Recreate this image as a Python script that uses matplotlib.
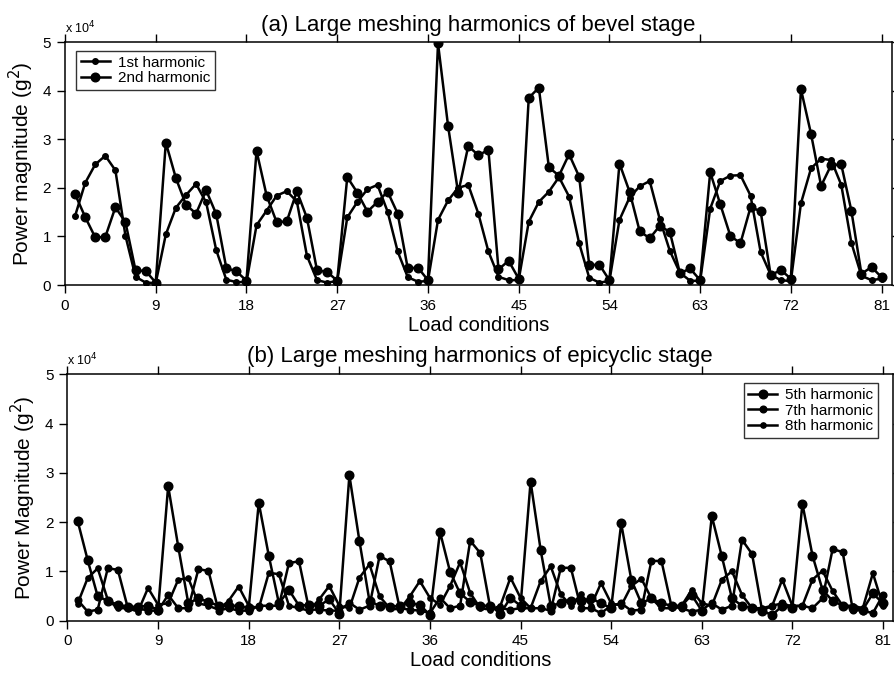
import numpy as np
import matplotlib
matplotlib.use("Agg")
import matplotlib.pyplot as plt

plt.rcParams['font.family'] = ['Liberation Sans', 'DejaVu Sans']

# load condition index
load = list(range(1, 82))

# (a) bevel stage, values in 1e4 g^2
bevel_1st = [
    1.42, 2.10, 2.48, 2.66, 2.36, 1.01, 0.17, 0.05, 0.04,
    1.04, 1.59, 1.85, 2.08, 1.70, 0.72, 0.11, 0.06, 0.06,
    1.23, 1.53, 1.84, 1.93, 1.72, 0.60, 0.10, 0.05, 0.08,
    1.39, 1.71, 1.97, 2.06, 1.51, 0.69, 0.16, 0.07, 0.08,
    1.34, 1.74, 2.00, 2.06, 1.47, 0.69, 0.17, 0.10, 0.10,
    1.30, 1.71, 1.92, 2.22, 1.82, 0.86, 0.15, 0.05, 0.08,
    1.34, 1.80, 2.03, 2.14, 1.35, 0.70, 0.25, 0.09, 0.08,
    1.57, 2.14, 2.25, 2.26, 1.84, 0.68, 0.21, 0.10, 0.08,
    1.68, 2.40, 2.60, 2.57, 2.06, 0.87, 0.19, 0.10, 0.13,
]
bevel_2nd = [
    1.87, 1.40, 0.98, 0.99, 1.60, 1.29, 0.30, 0.29, 0.05,
    2.93, 2.20, 1.65, 1.47, 1.95, 1.46, 0.35, 0.28, 0.09,
    2.76, 1.84, 1.29, 1.31, 1.93, 1.38, 0.30, 0.27, 0.09,
    2.22, 1.90, 1.51, 1.71, 1.92, 1.47, 0.34, 0.36, 0.10,
    4.97, 3.27, 1.89, 2.86, 2.67, 2.78, 0.32, 0.50, 0.13,
    3.85, 4.06, 2.42, 2.25, 2.69, 2.23, 0.41, 0.42, 0.10,
    2.50, 1.92, 1.11, 0.96, 1.22, 1.09, 0.24, 0.34, 0.10,
    2.32, 1.66, 1.01, 0.86, 1.60, 1.52, 0.20, 0.31, 0.13,
    4.03, 3.11, 2.04, 2.47, 2.48, 1.53, 0.23, 0.37, 0.16,
]

# (b) epicyclic stage, values in 1e4 g^2
epi_5th = [
    2.03, 1.23, 0.49, 0.40, 0.32, 0.28, 0.28, 0.30, 0.22,
    2.73, 1.50, 0.35, 0.45, 0.38, 0.30, 0.30, 0.30, 0.25,
    2.39, 1.31, 0.35, 0.62, 0.30, 0.32, 0.30, 0.43, 0.14,
    2.95, 1.61, 0.39, 0.30, 0.28, 0.30, 0.35, 0.32, 0.11,
    1.80, 0.99, 0.55, 0.38, 0.30, 0.30, 0.14, 0.46, 0.30,
    2.82, 1.43, 0.30, 0.35, 0.40, 0.40, 0.45, 0.35, 0.25,
    1.97, 0.83, 0.35, 0.45, 0.35, 0.30, 0.30, 0.52, 0.20,
    2.12, 1.30, 0.45, 0.30, 0.25, 0.20, 0.11, 0.30, 0.25,
    2.37, 1.32, 0.62, 0.40, 0.30, 0.25, 0.22, 0.55, 0.35,
]
epi_7th = [
    0.42, 0.18, 0.22, 1.06, 1.03, 0.25, 0.25, 0.20, 0.20,
    0.52, 0.25, 0.25, 1.04, 1.01, 0.20, 0.25, 0.20, 0.20,
    0.30, 0.30, 0.30, 1.17, 1.20, 0.22, 0.22, 0.20, 0.20,
    0.36, 0.22, 0.30, 1.31, 1.20, 0.25, 0.22, 0.20, 0.15,
    0.46, 0.25, 0.30, 1.62, 1.37, 0.25, 0.25, 0.22, 0.25,
    0.25, 0.25, 0.20, 1.07, 1.07, 0.25, 0.25, 0.15, 0.30,
    0.35, 0.20, 0.22, 1.21, 1.21, 0.28, 0.25, 0.18, 0.22,
    0.35, 0.22, 0.30, 1.64, 1.35, 0.20, 0.30, 0.35, 0.28,
    0.30, 0.25, 0.45, 1.45, 1.39, 0.22, 0.20, 0.15, 0.52,
]
epi_8th = [
    0.34, 0.86, 1.06, 0.42, 0.25, 0.25, 0.18, 0.66, 0.32,
    0.35, 0.83, 0.86, 0.35, 0.30, 0.22, 0.40, 0.69, 0.30,
    0.25, 0.97, 0.94, 0.30, 0.25, 0.20, 0.43, 0.70, 0.30,
    0.25, 0.87, 1.14, 0.49, 0.25, 0.22, 0.49, 0.80, 0.46,
    0.32, 0.70, 1.18, 0.56, 0.25, 0.22, 0.30, 0.87, 0.46,
    0.25, 0.80, 1.10, 0.53, 0.30, 0.53, 0.30, 0.76, 0.35,
    0.30, 0.70, 0.85, 0.45, 0.25, 0.25, 0.30, 0.62, 0.35,
    0.30, 0.83, 1.00, 0.52, 0.25, 0.25, 0.30, 0.83, 0.30,
    0.30, 0.83, 1.01, 0.60, 0.30, 0.30, 0.25, 0.96, 0.30,
]

xticks = list(range(0, 82, 9))
yticks = [0, 1, 2, 3, 4, 5]


def style_axes(ax):
    ax.set_xlim(0, 82)
    ax.set_ylim(0, 5)
    ax.set_xticks(xticks)
    ax.set_yticks(yticks)
    ax.tick_params(direction="out", length=6, width=1, labelsize=11, pad=4,
                   top=True, right=True, labeltop=False, labelright=False)
    for s in ax.spines.values():
        s.set_linewidth(1.1)
    ax.text(0.0, 1.025, r"x 10$^{4}$", transform=ax.transAxes, fontsize=9,
            ha="left", va="bottom")


def style_legend(leg):
    leg.get_frame().set_edgecolor("k")
    leg.get_frame().set_linewidth(1)


fig = plt.figure(figsize=(8.94, 6.83), dpi=100)

ax1 = fig.add_axes([0.0727, 0.5827, 0.9247, 0.3558])
ax1.plot(load, bevel_1st, "k-o", lw=1.8, ms=4, label="1st harmonic")
ax1.plot(load, bevel_2nd, "k-o", lw=1.8, ms=6.2, label="2nd harmonic")
style_axes(ax1)
ax1.set_title("(a) Large meshing harmonics of bevel stage", fontsize=16, pad=8)
ax1.set_xlabel("Load conditions", fontsize=14.5, labelpad=2)
ax1.set_ylabel("Power magnitude (g$^2$)", fontsize=15, labelpad=5)
leg1 = ax1.legend(loc="upper left", bbox_to_anchor=(0.01, 0.975), fontsize=11,
                  frameon=True, fancybox=False, handlelength=1.9, borderpad=0.3,
                  labelspacing=0.1, handletextpad=0.5, borderaxespad=0.2)
style_legend(leg1)

ax2 = fig.add_axes([0.0755, 0.0915, 0.9234, 0.3605])
ax2.plot(load, epi_5th, "k-o", lw=1.8, ms=6.2, label="5th harmonic")
ax2.plot(load, epi_7th, "k-o", lw=1.8, ms=4.8, label="7th harmonic")
ax2.plot(load, epi_8th, "k-o", lw=1.8, ms=3.8, label="8th harmonic")
style_axes(ax2)
ax2.set_title("(b) Large meshing harmonics of epicyclic stage", fontsize=16, pad=9)
ax2.set_xlabel("Load conditions", fontsize=14.5, labelpad=2)
ax2.set_ylabel("Power Magnitude (g$^2$)", fontsize=15, labelpad=5)
leg2 = ax2.legend(loc="upper right", bbox_to_anchor=(0.985, 0.975), fontsize=11,
                  frameon=True, fancybox=False, handlelength=1.9, borderpad=0.3,
                  labelspacing=0.1, handletextpad=0.5, borderaxespad=0.2)
style_legend(leg2)

fig.savefig("out.png", dpi=100)
